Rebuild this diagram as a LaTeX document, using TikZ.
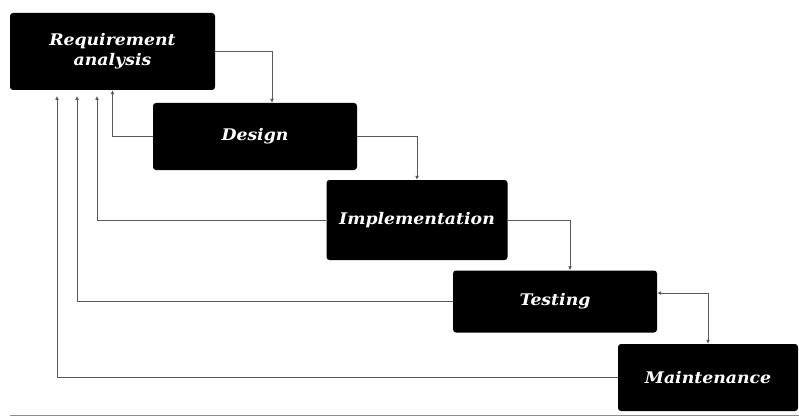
\documentclass[tikz,border=0pt]{standalone}
\usepackage{fontspec}
\setmainfont{DejaVu Serif}
\newfontfamily\phasefont{DejaVu Serif}[FakeStretch=1.08]
\usetikzlibrary{arrows.meta,positioning}

\begin{document}
\begin{tikzpicture}[x=1pt,y=-1pt,
    phase/.style={fill=black,rounded corners=3pt,text=white,align=center,
      font=\phasefont\fontsize{16}{20}\selectfont\bfseries\itshape,inner sep=0pt},
    flow/.style={draw=black!65,line width=0.8pt,-{Latex[length=4pt,width=4pt]}},
    both/.style={draw=black!65,line width=0.8pt,{Latex[length=4pt,width=4pt]}-{Latex[length=4pt,width=4pt]}}]

			\useasboundingbox (0,0) rectangle (799,417);

			% phases
			\node[phase,minimum width=205pt,minimum height=77pt] (req) at (112.5,51.5) {Requirement\\analysis};
			\node[phase,minimum width=204pt,minimum height=67pt] (design) at (255,136.5) {Design};
			\node[phase,minimum width=181pt,minimum height=80pt] (impl) at (417,220) {Implementation};
			\node[phase,minimum width=204pt,minimum height=62pt] (test) at (555,301.5) {Testing};
			\node[phase,minimum width=180pt,minimum height=67pt] (maint) at (708,377.5) {Maintenance};

			% ends of the feedback lines
			\coordinate (back1) at (97,96);
			\coordinate (back2) at (77,96);
			\coordinate (back3) at (57,96);

			% forward
			\draw[flow] (req.east) -| ([xshift=17pt]design.north);
			\draw[flow] (design.east) -| (impl.north);
			\draw[flow] (impl.east) -| ([xshift=15pt]test.north);
			\draw[both] ([yshift=8.5pt]test.east) -| (maint.north);

			% back
			\draw[flow] (design.west) -| (req.south);
			\draw[flow] (impl.west) -| (back1);
			\draw[flow] (test.west) -| (back2);
			\draw[flow] (maint.west) -| (back3);

			\draw[black!45,line width=1pt] (10,415) -- (799,415);

		\end{tikzpicture}
\end{document}
